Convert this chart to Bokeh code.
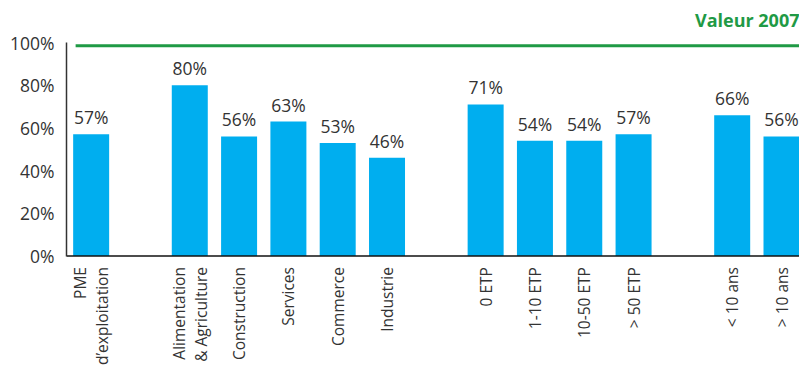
import math
from bokeh.plotting import figure
from bokeh.models import ColumnDataSource, FixedTicker
from bokeh.embed import file_html
from bokeh.resources import INLINE
from bokeh.core.properties import value

# ---- data ----
group_labels = [
    ["PME\nd’exploitation"],
    ["Alimentation\n& Agriculture", "Construction", "Services", "Commerce", "Industrie"],
    ["0 ETP", "1-10 ETP", "10-50 ETP", "> 50 ETP"],
    ["< 10 ans", "> 10 ans"],
]
group_values = [
    [57],
    [80, 56, 63, 53, 46],
    [71, 54, 54, 57],
    [66, 56],
]
valeur_2007 = 98.5
reference_label = "Valeur 2007"
y_ticks = [0, 20, 40, 60, 80, 100]
y_tick_labels = ["0%", "20%", "40%", "60%", "80%", "100%"]

# ---- layout of categories (one empty slot between groups) ----
xs, names, vals = [], [], []
pos = 0
for gi, (labs, vs) in enumerate(zip(group_labels, group_values)):
    if gi > 0:
        pos += 1
    for lab, v in zip(labs, vs):
        xs.append(pos)
        names.append(lab)
        vals.append(v)
        pos += 1

BAR_W = 0.73
BLUE = "#00aeef"
GREEN = "#1f9a45"
TXT = "#333333"
FONT = "Open Sans"

src = ColumnDataSource(dict(x=xs, top=vals, lab=[f"{v}%" for v in vals],
                            name=names, base=[0] * len(xs)))

x_end = xs[-1] + BAR_W / 2
# frame spans the whole height: room above 100 % for the caption,
# room below 0 for the category labels; the y axis itself is bounded to 0-100
p = figure(width=799, height=367, x_range=(-0.5, x_end), y_range=(-52.2, 119.7),
           output_backend="svg", toolbar_location=None, x_axis_location=None,
           min_border_left=66, min_border_right=0, min_border_top=0, min_border_bottom=0)
p.title = None
p.outline_line_color = None
p.xgrid.grid_line_color = None
p.ygrid.grid_line_color = None
p.background_fill_color = "white"
p.border_fill_color = "white"

p.vbar(x="x", top="top", width=BAR_W, bottom=0, source=src, color=BLUE, line_color=None)

p.text(x="x", y="top", text="lab", source=src, text_align="center",
       text_baseline="alphabetic", y_offset=-17, text_font=value(FONT),
       text_font_size="17.5px", text_color=TXT)

# category axis: baseline and labels
p.line(x=[-0.5, x_end], y=[0, 0], line_color="#111111", line_width=1.5)
p.text(x="x", y="base", text="name", source=src, angle=math.pi / 2,
       text_align="right", text_baseline="middle", y_offset=11,
       text_font=value(FONT), text_font_size="15.5px", text_color=TXT,
       text_line_height=1.0)

# reference line and its caption
p.line(x=[xs[0] - BAR_W / 2 + 0.05, x_end], y=[valeur_2007, valeur_2007],
       line_color=GREEN, line_width=3)
p.text(x=[x_end], y=[valeur_2007], text=[reference_label], text_align="right",
       text_baseline="alphabetic", y_offset=-26, text_font=value(FONT),
       text_font_size="18px", text_font_style="bold", text_color=GREEN)

ya = p.yaxis[0]
ya.bounds = (0, 100)
ya.ticker = FixedTicker(ticks=y_ticks)
ya.major_label_overrides = {t: l for t, l in zip(y_ticks, y_tick_labels)}
ya.major_tick_line_color = None
ya.major_tick_out = 0
ya.major_tick_in = 0
ya.minor_tick_line_color = None
ya.major_label_standoff = 12
ya.major_label_text_font = FONT
ya.major_label_text_font_size = "17.5px"
ya.major_label_text_color = TXT
ya.axis_line_color = "#333333"
ya.axis_line_width = 1.5

open("out.html", "w").write(file_html(p, INLINE))
